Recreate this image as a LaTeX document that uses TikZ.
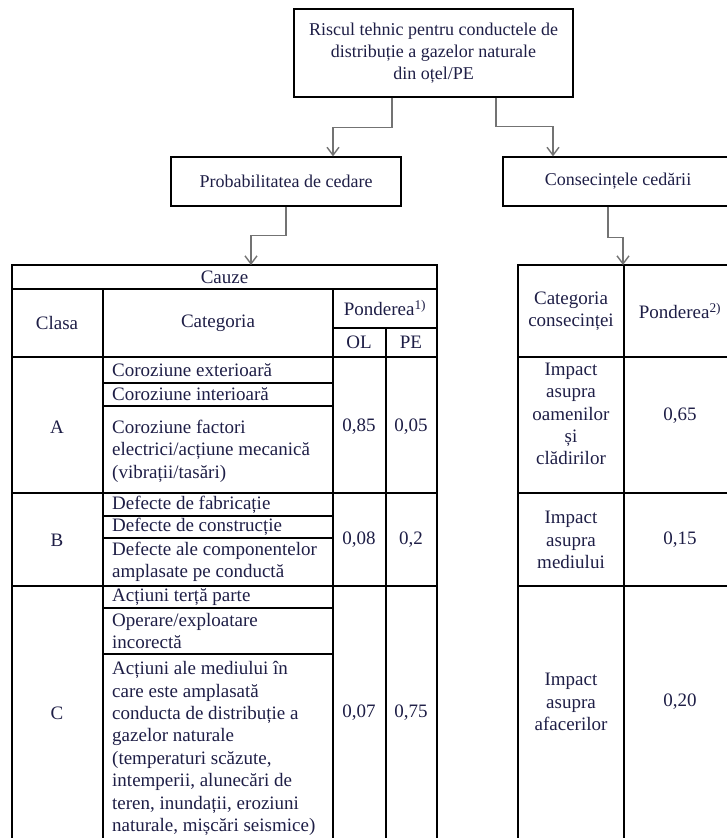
\documentclass[tikz,border=0pt]{standalone}
\usepackage{fontspec}
\setmainfont{Liberation Serif}
\usetikzlibrary{arrows.meta, calc}
\definecolor{ink}{RGB}{30,30,70}
\definecolor{linkgray}{RGB}{115,115,115}
\tikzstyle{box} = [rectangle, draw = black, line width=1.2pt, text=ink, align=center, font=\fontsize{18}{22}\selectfont, inner sep=0pt]
\tikzstyle{txt} = [text=ink, align=center, font=\fontsize{19}{22.4}\selectfont, inner sep=0pt]
\tikzstyle{ltxt} = [txt, align=left, anchor=west]
\tikzstyle{tline} = [draw = black, line width=1.1pt]
\tikzstyle{arrow} = [-{Straight Barb[length=8pt,width=12pt]}, draw=linkgray, line width=1.4pt]

\begin{document}
\begin{tikzpicture}[x=1pt, y=-1pt]
	\useasboundingbox (0,0) rectangle (727,838);
	\node (risc) [box, minimum width=279pt, minimum height=88pt] at (433.5,53) {Riscul tehnic pentru conductele de\\distribuție a gazelor naturale\\din oțel/PE};
	\node (prob) [box, minimum width=230pt, minimum height=49pt] at (286,181.5) {Probabilitatea de cedare};
	\node (cons) [box, minimum width=230pt, minimum height=49pt] at (618,181.5) {Consecințele cedării};
	% tabel cauze
	\draw[tline] (12,265) rectangle (437,850);
	\draw[tline] (12,289) -- (437,289);
	\draw[tline] (12,357) -- (437,357);
	\draw[tline] (333,328) -- (437,328);
	\draw[tline] (103,289) -- (103,850);
	\draw[tline] (333,289) -- (333,850);
	\draw[tline] (386,328) -- (386,850);
	\foreach \y in {493,586} \draw[tline] (12,\y) -- (437,\y);
	\foreach \y in {383,406,516,538,608,654} \draw[tline] (103,\y) -- (333,\y);
	\coordinate (cauzeN) at (251,265);
	\node (cauze) [txt] at (224.5,277) {Cauze};
	\node (clasa) [txt] at (57,323) {Clasa};
	\node (categ) [txt] at (218,323) {Categoria};
	\node (pond1) [txt] at (385,308) {Ponderea\textsuperscript{1)}};
	\node (ol) [txt] at (359,342) {OL};
	\node (pe) [txt] at (411,342) {PE};
	\node (clsA) [txt] at (57,427) {A};
	\node (clsB) [txt] at (57,540) {B};
	\node (clsC) [txt] at (57,713) {C};
	\node (olA) [txt] at (359,427) {0,85};
	\node (peA) [txt] at (411,427) {0,05};
	\node (olB) [txt] at (359,540) {0,08};
	\node (peB) [txt] at (411,540) {0,2};
	\node (olC) [txt] at (359,713) {0,07};
	\node (peC) [txt] at (411,713) {0,75};
	\node (catA1) [ltxt] at (112,370) {Coroziune exterioară};
	\node (catA2) [ltxt] at (112,394.5) {Coroziune interioară};
	\node (catA3) [ltxt] at (112,451) {Coroziune factori\\electrici/acțiune mecanică\\(vibrații/tasări)};
	\node (catB1) [ltxt] at (112,504.5) {Defecte de fabricație};
	\node (catB2) [ltxt] at (112,527) {Defecte de construcție};
	\node (catB3) [ltxt] at (112,562) {Defecte ale componentelor\\amplasate pe conductă};
	\node (catC1) [ltxt] at (112,597) {Acțiuni terță parte};
	\node (catC2) [ltxt] at (112,631) {Operare/exploatare\\incorectă};
	\node (catC3) [ltxt] at (112,748.5) {Acțiuni ale mediului în\\care este amplasată\\conducta de distribuție a\\gazelor naturale\\(temperaturi scăzute,\\intemperii, alunecări de\\teren, inundații, eroziuni\\naturale, mișcări seismice)};
	% tabel consecinte
	\draw[tline] (518,850) -- (518,265) -- (760,265);
	\draw[tline] (624,265) -- (624,850);
	\foreach \y in {357,493,586} \draw[tline] (518,\y) -- (760,\y);
	\coordinate (consN) at (623,265);
	\node (catcons) [txt] at (571,311) {Categoria\\consecinței};
	\node (pond2) [txt] at (680,311) {Ponderea\textsuperscript{2)}};
	\node (impA) [txt] at (571,414) {Impact\\asupra\\oamenilor\\și\\clădirilor};
	\node (impB) [txt] at (571,540) {Impact\\asupra\\mediului};
	\node (impC) [txt] at (571,702) {Impact\\asupra\\afacerilor};
	\node (pA) [txt] at (680,416) {0,65};
	\node (pB) [txt] at (680,540) {0,15};
	\node (pC) [txt] at (680,702) {0,20};
	% legaturi
	\draw [arrow] ([xshift=-41.5pt]risc.south) -- ++(0,30) -| ([xshift=47pt]prob.north);
	\draw [arrow] ([xshift=62.5pt]risc.south) -- ++(0,29) -| ([xshift=-65pt]cons.north);
	\draw [arrow] (prob.south) -- ++(0,29) -| (cauzeN);
	\draw [arrow] ([xshift=-10pt]cons.south) -- ++(0,31) -| (consN);
\end{tikzpicture}
\end{document}
